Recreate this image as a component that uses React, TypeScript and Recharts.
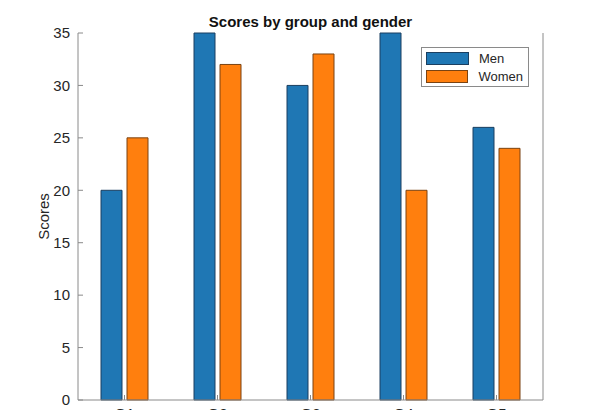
import { BarChart, Bar, XAxis, YAxis, Legend } from "recharts";

const groups = ["G1", "G2", "G3", "G4", "G5"];
const menScores = [20, 35, 30, 35, 26];
const womenScores = [25, 32, 33, 20, 24];
const scoreTicks = [0, 5, 10, 15, 20, 25, 30, 35];

const series = [
  { key: "men", name: "Men", fill: "#1f77b4", stroke: "#1b3f60" },
  { key: "women", name: "Women", fill: "#ff7f0e", stroke: "#7a4312" },
];

const data = groups.map((g, i) => ({
  name: g,
  men: menScores[i],
  women: womenScores[i],
}));

const FONT = '"Liberation Sans", Arial, Helvetica, sans-serif';
const AXIS = "#8a8a8a";
const TEXT = "#262626";

function LegendBox() {
  return (
    <div
      style={{
        border: `1px solid ${AXIS}`,
        background: "#fff",
        padding: "4px 5px 3px 4px",
        fontFamily: FONT,
        fontSize: 13,
        color: TEXT,
      }}
    >
      {series.map((s, i) => (
        <div
          key={s.key}
          style={{
            display: "flex",
            alignItems: "center",
            height: 13,
            marginTop: i === 0 ? 0 : 5,
          }}
        >
          <span
            style={{
              display: "inline-block",
              width: 41,
              height: 11,
              background: s.fill,
              border: `1px solid ${s.stroke}`,
              marginRight: 10,
            }}
          />
          <span>{s.name}</span>
        </div>
      ))}
    </div>
  );
}

export default function App() {
  return (
    <div
      style={{
        position: "absolute",
        top: 0,
        left: 0,
        width: 600,
        height: 410,
        overflow: "hidden",
        background: "#fff",
        fontFamily: FONT,
      }}
    >
      <div
        style={{
          position: "absolute",
          top: 13,
          left: 78,
          width: 465,
          textAlign: "center",
          fontWeight: "bold",
          fontSize: 15,
          color: "#111",
          zIndex: 2,
        }}
      >
        Scores by group and gender
      </div>
      <BarChart
        width={600}
        height={430}
        data={data}
        margin={{ top: 33, right: 56, bottom: 0, left: 0 }}
        barSize={21}
        barGap={5}
      >
        <XAxis
          dataKey="name"
          height={30}
          axisLine={{ stroke: AXIS }}
          tickLine={{ stroke: AXIS }}
          tickSize={-5}
          tickMargin={13}
          tick={{ fill: TEXT, fontSize: 15 }}
        />
        <XAxis
          xAxisId="top"
          dataKey="name"
          orientation="top"
          height={0}
          axisLine={{ stroke: AXIS }}
          tickLine={{ stroke: AXIS }}
          tickSize={-5}
          tick={false}
        />
        <YAxis
          width={78}
          type="number"
          domain={[0, 35]}
          ticks={scoreTicks}
          interval={0}
          axisLine={{ stroke: AXIS }}
          tickLine={{ stroke: AXIS }}
          tickSize={-5}
          tickMargin={13}
          tick={{ fill: TEXT, fontSize: 15 }}
          label={(props: any) => {
            const vb = props.viewBox || {};
            const cx = (vb.x ?? 0) + 43;
            const cy = (vb.y ?? 0) + (vb.height ?? 0) / 2;
            return (
              <text
                x={cx}
                y={cy}
                transform={`rotate(-90, ${cx}, ${cy})`}
                textAnchor="middle"
                dominantBaseline="central"
                fill={TEXT}
                fontSize={15}
              >
                Scores
              </text>
            );
          }}
        />
        <YAxis
          yAxisId="right"
          orientation="right"
          width={1}
          type="number"
          domain={[0, 35]}
          ticks={scoreTicks}
          interval={0}
          axisLine={{ stroke: AXIS }}
          tickLine={{ stroke: AXIS }}
          tickSize={-5}
          tick={false}
        />
        <Legend
          layout="vertical"
          align="center"
          verticalAlign="middle"
          wrapperStyle={{ top: 47, left: 421, width: 108 }}
          content={() => <LegendBox />}
        />
        {series.map((s) => (
          <Bar
            key={s.key}
            dataKey={s.key}
            name={s.name}
            fill={s.fill}
            stroke={s.stroke}
            strokeWidth={1}
            isAnimationActive={false}
          />
        ))}
      </BarChart>
    </div>
  );
}
